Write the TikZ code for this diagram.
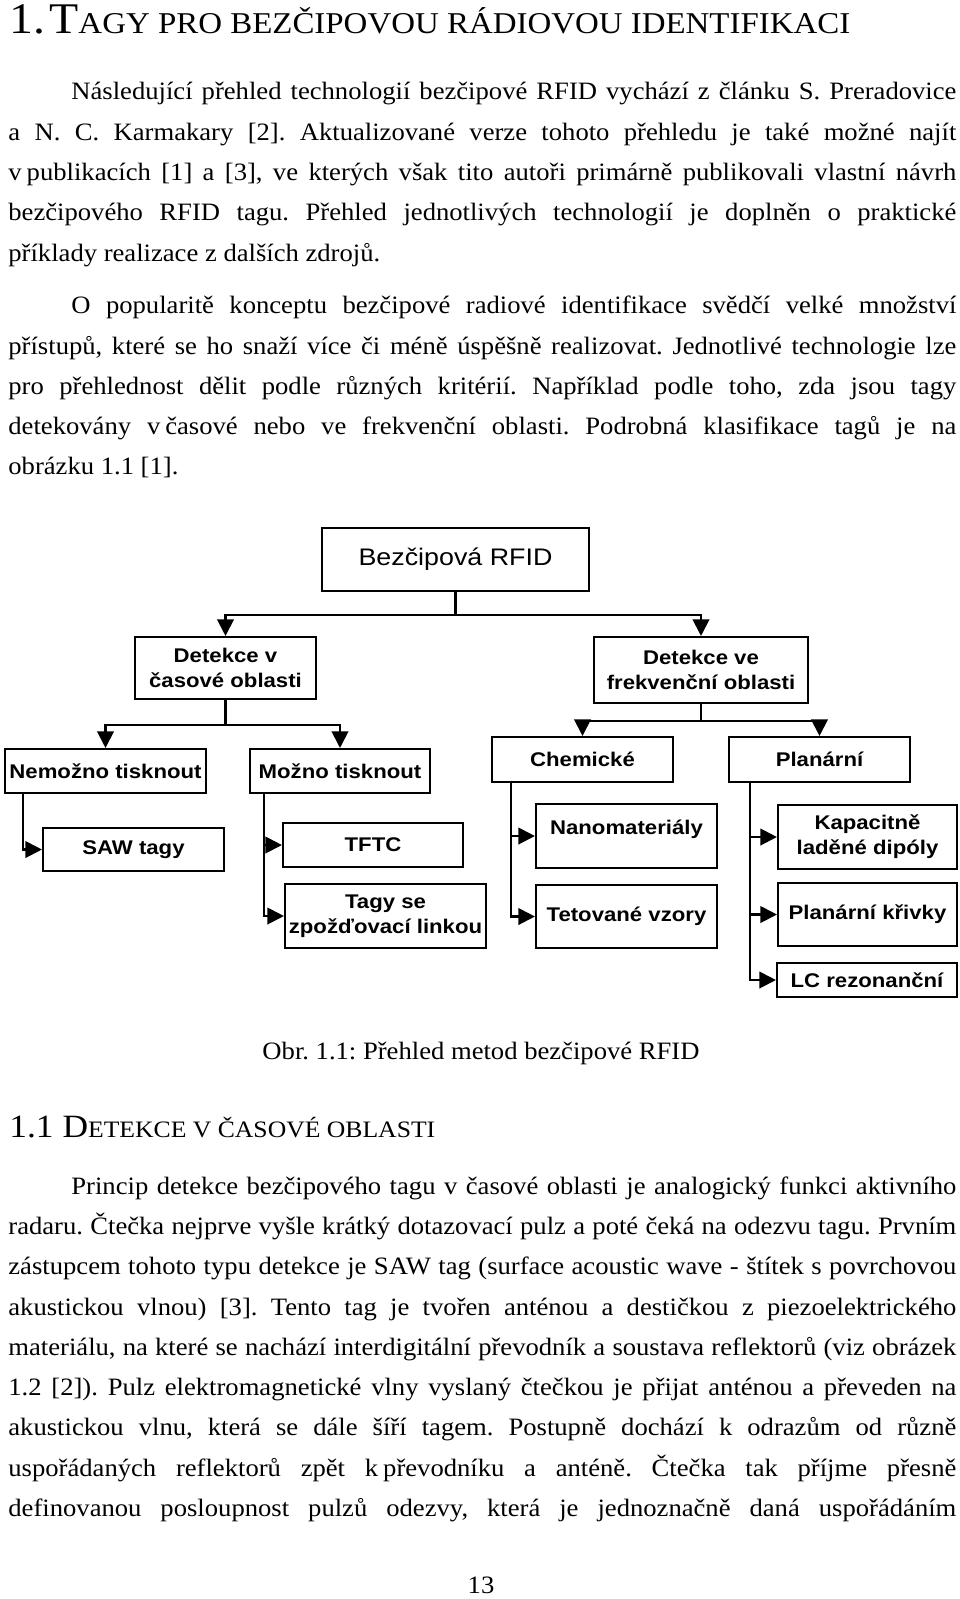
\documentclass[tikz,border=0pt]{standalone}
\usepackage{fontspec}
\setmainfont{Liberation Serif}[FakeStretch=1.065]
\newfontfamily\headfont{Liberation Serif}[FakeStretch=1.09]
\newfontfamily\diagfont{Liberation Sans}[FakeStretch=1.12]
\usetikzlibrary{arrows.meta,calc}
\frenchspacing

\newlength\plnaw \setlength\plnaw{455pt}
\newlength\odsw \setlength\odsw{424.8pt}
\newcommand{\radek}[1]{\makebox[\plnaw][s]{#1}}
\newcommand{\prvni}[1]{\makebox[\odsw][s]{#1}}
\newcommand{\pev}{\hspace{0.2em}}

\tikzset{
  txt/.style={anchor=mid west, inner sep=0pt, font=\fontsize{12}{14}\selectfont},
  kast/.style={draw, line width=1pt, inner sep=1pt, align=center,
    font=\diagfont\bfseries\fontsize{9.5}{12}\selectfont},
  velikost/.style 2 args={minimum width=#1*0.48pt, minimum height=#2*0.48pt},
  sipka/.style={line width=1pt, -{Triangle[length=8pt,width=8pt]}}
}

\begin{document}
\begin{tikzpicture}[x=0.48pt, y=-0.48pt]
        \useasboundingbox (0,0) rectangle (960,1599);

        \node[anchor=base west, inner sep=0pt] (nadpis) at (9,33)
          {\headfont\fontsize{21}{25}\selectfont 1.\hspace{2pt}T{\fontsize{14.5}{17}\selectfont AGY PRO BEZČIPOVOU RÁDIOVOU IDENTIFIKACI}};

        \node[txt] (p1a) at (71,95) {\prvni{Následující přehled technologií bezčipové RFID vychází z článku S. Preradovice}};
        \node[txt] (p1b) at (8,136) {\radek{a N. C. Karmakary [2]. Aktualizované verze tohoto přehledu je také možné najít}};
        \node[txt] (p1c) at (8,176) {\radek{v\pev publikacích [1] a [3], ve kterých však tito autoři primárně publikovali vlastní návrh}};
        \node[txt] (p1d) at (8,216) {\radek{bezčipového RFID tagu. Přehled jednotlivých technologií je doplněn o praktické}};
        \node[txt] (p1e) at (8,257) {příklady realizace z dalších zdrojů.};

        \node[txt] (p2a) at (71,309) {\prvni{O popularitě konceptu bezčipové radiové identifikace svědčí velké množství}};
        \node[txt] (p2b) at (8,350) {\radek{přístupů, které se ho snaží více či méně úspěšně realizovat. Jednotlivé technologie lze}};
        \node[txt] (p2c) at (8,390) {\radek{pro přehlednost dělit podle různých kritérií. Například podle toho, zda jsou tagy}};
        \node[txt] (p2d) at (8,430) {\radek{detekovány v\pev časové nebo ve frekvenční oblasti. Podrobná klasifikace tagů je na}};
        \node[txt] (p2e) at (8,470) {obrázku 1.1 [1].};

        % schema
        \node[kast, velikost={267}{63}, font=\diagfont\fontsize{11.5}{13}\selectfont] (rfid) at (455.5,559.5) {Bezčipová RFID};
        \node[kast, velikost={181}{62}] (cas) at (225.5,668) {Detekce v\\časové oblasti};
        \node[kast, velikost={214}{66}] (frek) at (701,670) {Detekce ve\\frekvenční oblasti};
        \node[kast, velikost={201}{44}] (nemoz) at (105.5,771) {Nemožno tisknout};
        \node[kast, velikost={180}{44}] (mozno) at (340,771) {Možno tisknout};
        \node[kast, velikost={181}{45}] (chem) at (582.5,759.5) {Chemické};
        \node[kast, velikost={181}{45}] (planar) at (819.5,759.5) {Planární};
        \node[kast, velikost={181}{43}] (saw) at (133.5,849.5) {SAW tagy};
        \node[kast, velikost={180}{44}] (tftc) at (373,845) {TFTC};
        \node[kast, velikost={201}{64}] (zpozd) at (385.5,916) {Tagy se\\zpožďovací linkou};
        \node[kast, velikost={181}{64}] (nano) at (626.5,836) {\raisebox{8pt}{Nanomateriály}};
        \node[kast, velikost={181}{63}] (tet) at (626.5,916.5) {Tetované vzory};
        \node[kast, velikost={179}{64}] (kap) at (867.5,837) {Kapacitně\\laděné dipóly};
        \node[kast, velikost={179}{63}] (pkriv) at (867.5,914.5) {Planární křivky};
        \node[kast, velikost={180}{34}] (lc) at (867,980) {LC rezonanční};

        \draw[sipka] (rfid.south) -- ++(0,23) -| (cas.north);
        \draw[sipka] (rfid.south) -- ++(0,23) -| (frek.north);
        \draw[sipka] (cas.south) -- ++(0,25) -| (nemoz.north);
        \draw[sipka] (cas.south) -- ++(0,25) -| (mozno.north);
        \draw[sipka] (frek.south) -- ++(0,17) -| (chem.north);
        \draw[sipka] (frek.south) -- ++(0,17) -| (planar.north);

        \draw[sipka] ($(nemoz.south west)+(19,0)$) |- (saw.west);
        \draw[sipka] ($(mozno.south west)+(15,0)$) |- (tftc.west);
        \draw[sipka] ($(mozno.south west)+(15,0)$) |- (zpozd.west);
        \draw[sipka] ($(chem.south west)+(20,0)$) |- (nano.west);
        \draw[sipka] ($(chem.south west)+(20,0)$) |- (tet.west);
        \draw[sipka] ($(planar.south west)+(22,0)$) |- (kap.west);
        \draw[sipka] ($(planar.south west)+(22,0)$) |- (pkriv.west);
        \draw[sipka] ($(planar.south west)+(22,0)$) |- (lc.west);

        \node[txt, anchor=mid] (popisek) at (481,1055) {Obr. 1.1: Přehled metod bezčipové RFID};

        \node[anchor=base west, inner sep=0pt] (podnadpis) at (9,1137)
          {\headfont\fontsize{15.6}{19}\selectfont 1.1 D{\fontsize{11.3}{14}\selectfont ETEKCE V ČASOVÉ OBLASTI}};

        \node[txt] (p3a) at (71,1190) {\prvni{Princip detekce bezčipového tagu v časové oblasti je analogický funkci aktivního}};
        \node[txt] (p3b) at (8,1230) {\radek{radaru. Čtečka nejprve vyšle krátký dotazovací pulz a poté čeká na odezvu tagu. Prvním}};
        \node[txt] (p3c) at (8,1270) {\radek{zástupcem tohoto typu detekce je SAW tag (surface acoustic wave - štítek s povrchovou}};
        \node[txt] (p3d) at (8,1311) {\radek{akustickou vlnou) [3]. Tento tag je tvořen anténou a destičkou z piezoelektrického}};
        \node[txt] (p3e) at (8,1351) {\radek{materiálu, na které se nachází interdigitální převodník a soustava reflektorů (viz obrázek}};
        \node[txt] (p3f) at (8,1391) {\radek{1.2 [2]). Pulz elektromagnetické vlny vyslaný čtečkou je přijat anténou a převeden na}};
        \node[txt] (p3g) at (8,1431) {\radek{akustickou vlnu, která se dále šíří tagem. Postupně dochází k odrazům od různě}};
        \node[txt] (p3h) at (8,1472) {\radek{uspořádaných reflektorů zpět k\pev převodníku a anténě. Čtečka tak příjme přesně}};
        \node[txt] (p3i) at (8,1512) {\radek{definovanou posloupnost pulzů odezvy, která je jednoznačně daná uspořádáním}};

        \node[txt, anchor=mid] (cislo) at (481,1589) {13};
\end{tikzpicture}
\end{document}
